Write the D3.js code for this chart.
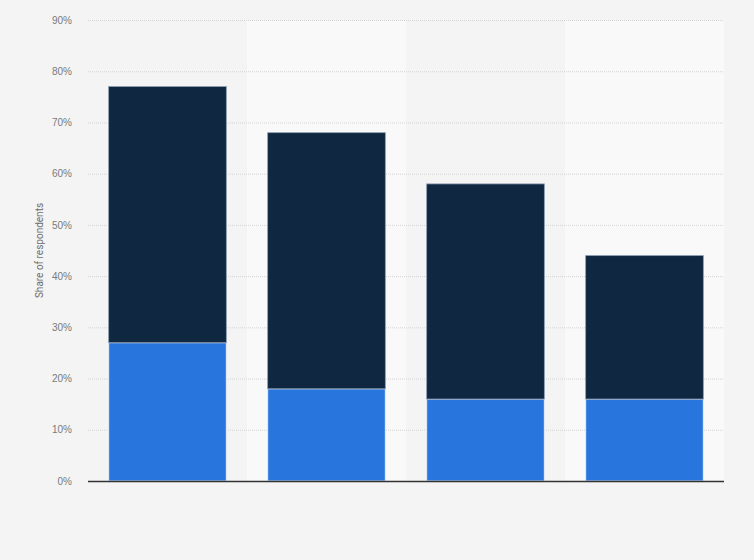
<!DOCTYPE html>
<html>
<head>
<meta charset="utf-8">
<script src="https://cdn.jsdelivr.net/npm/d3@7"></script>
<style>
  body { margin: 0; background: #f4f4f4; }
  svg { display: block; font-family: Roboto, "Open Sans", Arial, sans-serif; }
  .tick text { fill: #7a7a7a; font-size: 10px; }
  .grid line { stroke: #d4d4d4; stroke-dasharray: 1,1; }
</style>
</head>
<body>
<svg id="chart" width="754" height="560"></svg>
<script>
// categories are not labelled in the picture
var categories = ["A", "B", "C", "D"];
var lower = [27, 18, 16, 16];   // light blue segment
var upper = [50, 50, 42, 28];   // dark navy segment
var yTicks = [0, 10, 20, 30, 40, 50, 60, 70, 80, 90];

var svg = d3.select("#chart"),
    margin = {top: 20, right: 30, bottom: 79, left: 88},
    width = +svg.attr("width") - margin.left - margin.right,
    height = +svg.attr("height") - margin.top - margin.bottom;

svg.append("rect").attr("width", 754).attr("height", 560).attr("fill", "#f4f4f4");

var g = svg.append("g").attr("transform", "translate(" + margin.left + "," + margin.top + ")");

var x = d3.scaleBand().domain(categories).range([0, width]).paddingInner(0.26).paddingOuter(0.13);
var y = d3.scaleLinear().domain([0, 90]).range([height, 0]);

// alternating column bands
var step = x.step();
g.selectAll(".band")
    .data(categories)
    .enter().append("rect")
    .attr("x", function(d) { return x(d) - x.step() * x.paddingInner() / 2; })
    .attr("y", 0)
    .attr("width", step)
    .attr("height", height)
    .attr("fill", function(d, i) { return i % 2 ? "#f9f9f9" : "#f4f4f4"; });

// grid
g.append("g")
    .attr("class", "grid")
    .selectAll("line")
    .data(yTicks.slice(1))
    .enter().append("line")
    .attr("x1", 0).attr("x2", width)
    .attr("y1", function(d) { return y(d) + 0.5; })
    .attr("y2", function(d) { return y(d) + 0.5; });

var yAxis = d3.axisLeft(y).tickValues(yTicks).tickFormat(function(d) { return d + "%"; }).tickSize(0).tickPadding(16);
var ya = g.append("g").call(yAxis);
ya.select(".domain").remove();

var stack = categories.map(function(c, i) { return {c: c, lo: lower[i], hi: upper[i]}; });

g.selectAll(".lo")
    .data(stack)
    .enter().append("rect")
    .attr("x", function(d) { return x(d.c); })
    .attr("width", x.bandwidth())
    .attr("y", function(d) { return y(d.lo); })
    .attr("height", function(d) { return y(0) - y(d.lo); })
    .attr("fill", "#2876dd")
    .attr("stroke", "#e8eef6")
    .attr("stroke-width", 1);

g.selectAll(".hi")
    .data(stack)
    .enter().append("rect")
    .attr("x", function(d) { return x(d.c); })
    .attr("width", x.bandwidth())
    .attr("y", function(d) { return y(d.lo + d.hi); })
    .attr("height", function(d) { return y(d.lo) - y(d.lo + d.hi); })
    .attr("fill", "#0f2740")
    .attr("stroke", "#8a9bb0")
    .attr("stroke-width", 0.8);

// baseline
g.append("line")
    .attr("x1", 0).attr("x2", width)
    .attr("y1", height + 0.5).attr("y2", height + 0.5)
    .attr("stroke", "#333").attr("stroke-width", 1.5);

svg.append("text")
    .attr("transform", "translate(43," + (margin.top + height / 2) + ") rotate(-90)")
    .attr("text-anchor", "middle")
    .attr("fill", "#6e6e6e")
    .attr("font-size", "10px")
    .text("Share of respondents");
</script>
</body>
</html>
